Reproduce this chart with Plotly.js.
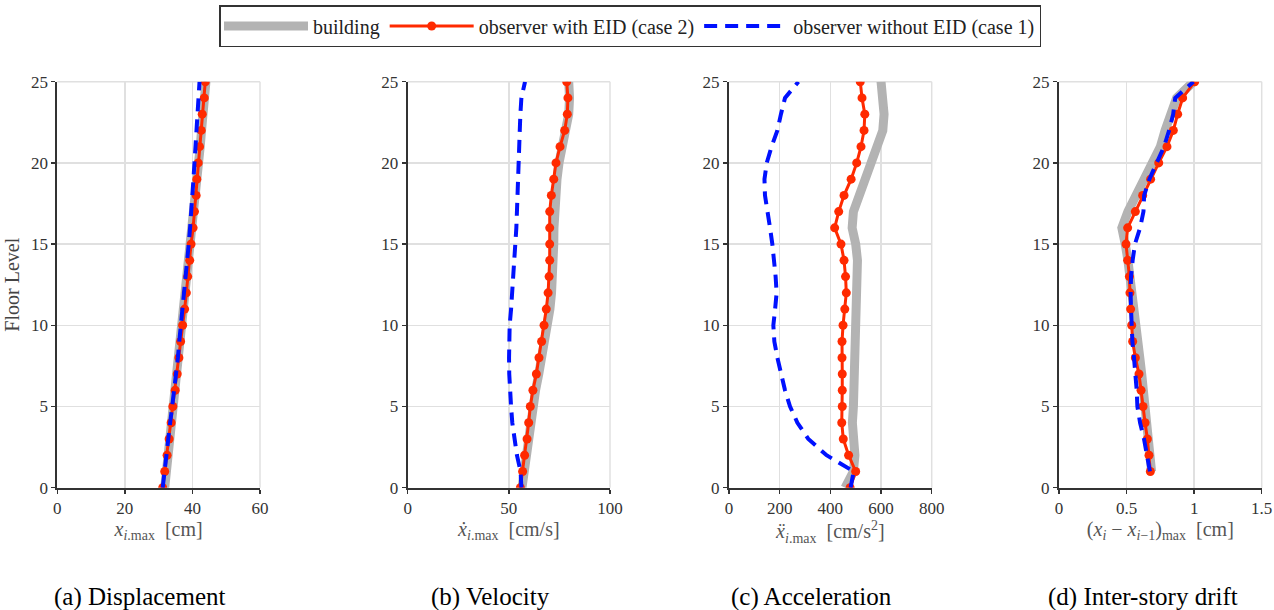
<!DOCTYPE html>
<html>
<head>
<meta charset="utf-8">
<script src="https://cdn.plot.ly/plotly-3.0.1.min.js"></script>
<style>html,body{margin:0;padding:0;background:#fff;}#chart{width:1274px;height:610px;}</style>
</head>
<body>
<div id="chart"></div>
<script>
// ---------- data ----------
const floors = [0,1,2,3,4,5,6,7,8,9,10,11,12,13,14,15,16,17,18,19,20,21,22,23,24,25];
const driftFloors = [1,2,3,4,5,6,7,8,9,10,11,12,13,14,15,16,17,18,19,20,21,22,23,24,25];

// (a) Displacement [cm]
const dispBuilding = [31.8,32.3,32.9,33.5,34.1,34.6,35.2,35.8,36.3,36.8,37.3,37.9,38.4,38.8,39.3,39.8,40.3,40.7,41.1,41.5,41.9,42.3,42.7,43.1,43.6,44.0];
const dispCase2 = [31.2,31.8,32.5,33.1,33.7,34.2,34.9,35.5,36.0,36.5,37.1,37.7,38.2,38.6,39.2,39.6,40.2,40.6,41.1,41.3,41.7,42.1,42.6,42.9,43.5,43.8];
const dispCase1 = [31.2,31.7,32.3,32.9,33.4,34.0,34.6,35.1,35.7,36.1,36.6,37.1,37.6,38.0,38.5,38.9,39.3,39.7,40.0,40.3,40.6,40.9,41.2,41.5,41.8,42.1];

// (b) Velocity [cm/s]
const velBuilding = [56.5,57.5,58.6,59.8,60.8,61.8,63.2,64.8,66.4,67.9,69.2,70.3,71.1,71.7,72.0,72.2,72.3,72.5,73.0,73.8,74.8,76.3,78.2,79.6,80.0,79.6];
const velCase2 = [55.7,56.8,57.8,59.0,59.8,60.6,61.9,63.6,64.9,66.2,67.4,68.5,69.4,69.9,70.2,70.2,70.2,70.2,71.0,72.2,73.3,75.3,77.6,78.9,79.2,78.6];
const velCase1 = [56.2,55.8,54.0,52.6,51.7,51.1,50.6,50.2,50.1,50.1,50.4,51.1,51.7,52.2,52.9,53.4,53.7,54.0,54.2,54.4,54.5,54.9,55.4,55.7,56.2,58.0];

// (c) Acceleration [cm/s^2]
const accBuilding = [458,491,497,491,487,491,493,495,496,497,500,504,508,510,507,500,486,491,513,538,563,587,607,612,609,600];
const accCase2 = [478,500,472,451,445,447,447,447,446,446,450,457,463,460,454,442,417,433,454,482,504,521,533,536,525,518];
const accCase1 = [480,492,385,313,270,241,221,205,191,179,175,182,188,184,178,171,162,151,142,140,149,168,191,205,221,274];

// (d) Inter-story drift [cm]
const driftBuilding = [0.685,0.675,0.665,0.652,0.640,0.627,0.612,0.598,0.585,0.570,0.555,0.540,0.525,0.510,0.490,0.465,0.510,0.570,0.630,0.690,0.750,0.785,0.820,0.870,0.995];
const driftCase2 = [0.676,0.666,0.654,0.637,0.622,0.607,0.592,0.565,0.545,0.538,0.530,0.525,0.521,0.508,0.496,0.508,0.565,0.619,0.678,0.738,0.799,0.846,0.878,0.915,1.004];
const driftCase1 = [0.673,0.654,0.629,0.600,0.580,0.575,0.567,0.555,0.543,0.535,0.533,0.530,0.533,0.545,0.562,0.600,0.625,0.630,0.669,0.723,0.777,0.815,0.845,0.860,0.995];

const seriesNames = ['building','observer with EID (case 2)','observer without EID (case 1)'];
const captions = ['(a) Displacement','(b) Velocity','(c) Acceleration','(d) Inter-story drift'];
const xTitles = [
  '<i>x</i><sub><i>i</i>.max</sub>  [cm]',
  '<i>ẋ</i><sub><i>i</i>.max</sub>  [cm/s]',
  '<i>ẍ</i><sub><i>i</i>.max</sub>  [cm/s<sup>2</sup>]',
  '(<i>x<sub>i</sub></i> − <i>x</i><sub><i>i</i>−1</sub>)<sub>max</sub>  [cm]'
];
const xRanges = [[0,60],[0,100],[0,800],[0,1.5]];
const xTicks = [[0,20,40,60],[0,50,100],[0,200,400,600,800],[0,0.5,1,1.5]];
const yTicks = [0,5,10,15,20,25];

// ---------- styling ----------
const FONT = '"Liberation Serif", "Times New Roman", serif';
const GRAY = '#b3b3b3', RED = '#ff2a00', BLUE = '#0011ff';
const GRID = '#e0e0e0';
const panels = [
  {y: floors, b: dispBuilding, c2: dispCase2, c1: dispCase1},
  {y: floors, b: velBuilding, c2: velCase2, c1: velCase1},
  {y: floors, b: accBuilding, c2: accCase2, c1: accCase1},
  {y: driftFloors, b: driftBuilding, c2: driftCase2, c1: driftCase1}
];
const W = 1274, H = 610;
const xDomPx = [[57.3,260],[407.7,610],[729,931.7],[1059,1261.7]];
const yDom = [1-487.7/H, 1-81.7/H];
const capX = [140,490,811,1143];

const traces = [];
const layout = {
  width: W, height: H,
  margin: {l:0, r:0, t:0, b:0},
  paper_bgcolor: '#fff', plot_bgcolor: '#fff',
  font: {family: FONT, size: 15, color: '#333'},
  showlegend: true,
  legend: {
    orientation: 'h', x: 630/W, xanchor: 'center', y: 1-5/H, yanchor: 'top',
    bordercolor: '#333', borderwidth: 1.5, bgcolor: '#fff',
    font: {family: FONT, size: 20, color: '#222'},
    itemwidth: 84, tracegroupgap: 0
  },
  annotations: [],
  shapes: []
};

panels.forEach((p, i) => {
  const ax = i === 0 ? '' : String(i+1);
  const common = {xaxis: 'x'+ax, yaxis: 'y'+ax, y: p.y, hoverinfo: 'skip'};
  traces.push(Object.assign({}, common, {
    x: p.b, type: 'scatter', mode: 'lines', name: seriesNames[0], legendgroup: 'g0', showlegend: i === 0,
    line: {color: GRAY, width: 9}
  }));
  traces.push(Object.assign({}, common, {
    x: p.c2, type: 'scatter', mode: 'lines+markers', name: seriesNames[1], legendgroup: 'g1', showlegend: i === 0,
    line: {color: RED, width: 3}, marker: {color: RED, size: 9}
  }));
  traces.push(Object.assign({}, common, {
    x: p.c1, type: 'scatter', mode: 'lines', name: seriesNames[2], legendgroup: 'g2', showlegend: i === 0,
    line: {color: BLUE, width: 4, dash: '13px,8px'}
  }));
  layout['xaxis'+ax] = {
    domain: [xDomPx[i][0]/W, xDomPx[i][1]/W], anchor: 'y'+ax,
    range: xRanges[i], tickvals: xTicks[i], ticktext: xTicks[i].map(String),
    showgrid: true, gridcolor: GRID, gridwidth: 1.5, zeroline: false,
    showline: true, linecolor: '#333', linewidth: 2,
    ticks: 'outside', ticklen: 4, tickwidth: 1.5, tickcolor: '#333',
    tickfont: {family: FONT, size: 17, color: '#333'},
    title: {text: xTitles[i], font: {family: FONT, size: 20, color: '#555'}, standoff: 2},
    fixedrange: true
  };
  layout['yaxis'+ax] = {
    domain: yDom, anchor: 'x'+ax,
    range: [0,25], tickvals: yTicks,
    showgrid: true, gridcolor: GRID, gridwidth: 1.5, zeroline: false,
    showline: true, linecolor: '#333', linewidth: 2,
    ticks: 'outside', ticklen: 4, tickwidth: 1.5, tickcolor: '#333',
    tickfont: {family: FONT, size: 17, color: '#333'},
    title: i === 0 ? {text: 'Floor Level', font: {family: FONT, size: 20, color: '#444'}, standoff: 6} : {text: ''},
    fixedrange: true
  };
  // grid lines along the top and right edges of each panel
  layout.shapes.push({type: 'line', xref: 'x'+ax+' domain', yref: 'y'+ax+' domain', x0: 0, x1: 1, y0: 1, y1: 1, line: {color: GRID, width: 1.5}, layer: 'below'});
  layout.shapes.push({type: 'line', xref: 'x'+ax+' domain', yref: 'y'+ax+' domain', x0: 1, x1: 1, y0: 0, y1: 1, line: {color: GRID, width: 1.5}, layer: 'below'});
  layout.annotations.push({
    text: captions[i], xref: 'paper', yref: 'paper', x: capX[i]/W, y: 1-597/H,
    xanchor: 'center', yanchor: 'middle', showarrow: false,
    font: {family: FONT, size: 25, color: '#000'}
  });
});

Plotly.newPlot('chart', traces, layout, {displayModeBar: false, staticPlot: true});
</script>
</body>
</html>
